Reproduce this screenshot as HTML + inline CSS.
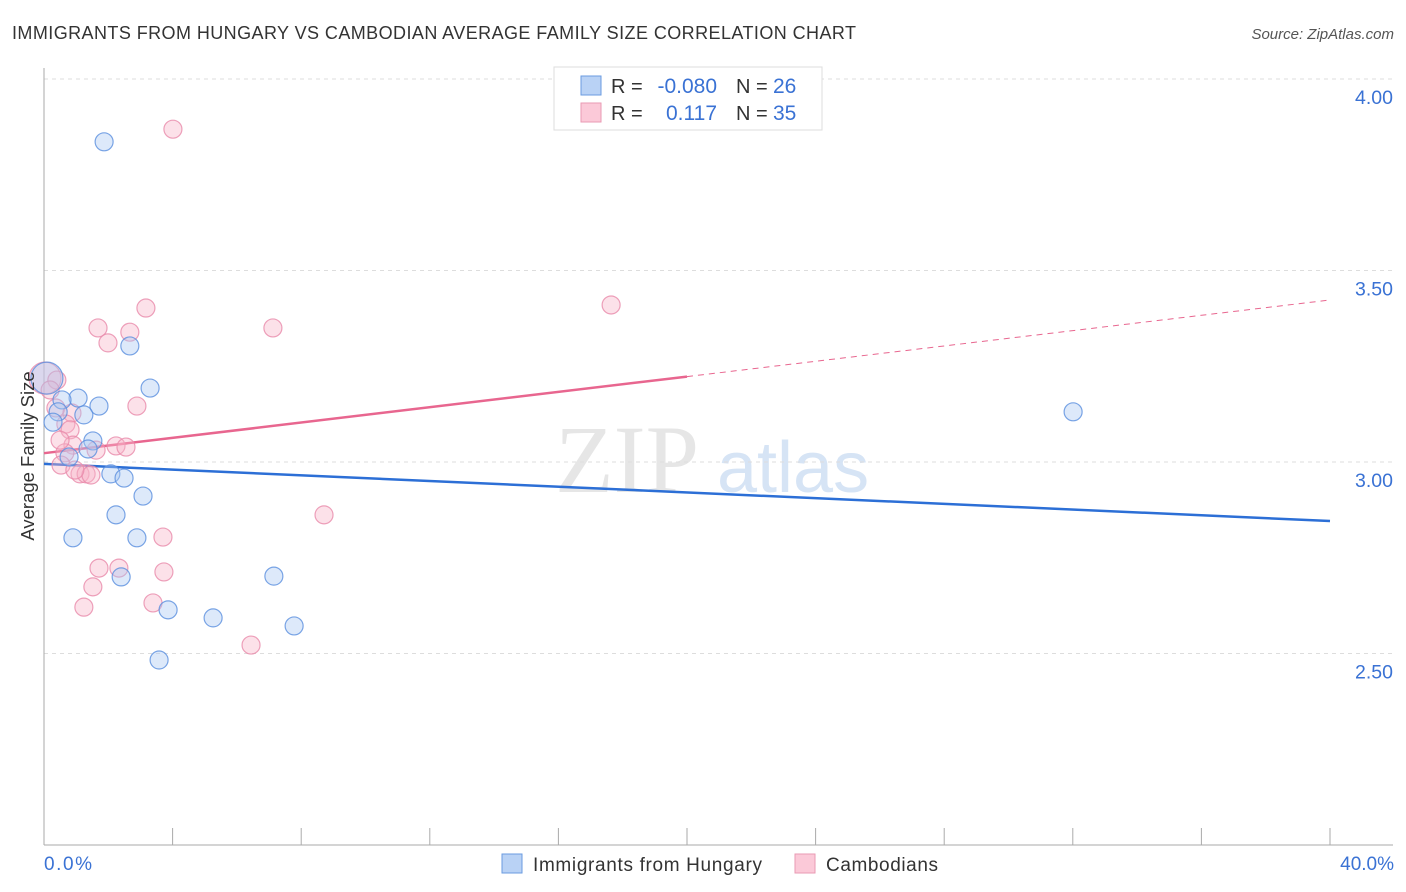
<!DOCTYPE html>
<html><head><meta charset="utf-8"><style>
body{margin:0;background:#fff;font-family:"Liberation Sans",sans-serif;}
svg{display:block}
</style></head><body>
<svg id="chart" width="1406" height="892" viewBox="0 0 1406 892">
<text x="12" y="39" font-size="18" fill="#333" textLength="844">IMMIGRANTS FROM HUNGARY VS CAMBODIAN AVERAGE FAMILY SIZE CORRELATION CHART</text>
<text x="1394" y="39" font-size="15" fill="#555" font-style="italic" text-anchor="end">Source: ZipAtlas.com</text>
<g>
<text x="555" y="492" font-size="96" font-family="Liberation Serif,serif" fill="#e6e6e6">ZIP</text>
<text x="717" y="492" font-size="72" fill="#d6e4f5">atlas</text>
</g>
<g id="grid"></g>
<g id="axes"></g>
<g id="trend"></g>
<g id="points"></g>
<text x="34" y="456" font-size="18.5" fill="#333" text-anchor="middle" transform="rotate(-90 34 456)">Average Family Size</text>
<text x="44" y="870" font-size="19" fill="#3a72d4" textLength="48">0.0%</text>
<text x="1394" y="870" font-size="19" fill="#3a72d4" text-anchor="end">40.0%</text>
<g>
<rect x="554" y="67" width="268" height="63" fill="#fff" stroke="#ddd"/>
<rect x="581" y="76" width="20" height="19" fill="#b9d2f5" stroke="#6a9be0"/>
<rect x="581" y="103" width="20" height="19" fill="#fbc9d8" stroke="#e99ab3"/>
<text x="611" y="93" font-size="20" fill="#333">R =</text>
<text x="717" y="93" font-size="21" fill="#3a72d4" text-anchor="end">-0.080</text>
<text x="736" y="93" font-size="20" fill="#333">N =</text>
<text x="773" y="93" font-size="21" fill="#3a72d4">26</text>
<text x="611" y="120" font-size="20" fill="#333">R =</text>
<text x="717" y="120" font-size="21" fill="#3a72d4" text-anchor="end">0.117</text>
<text x="736" y="120" font-size="20" fill="#333">N =</text>
<text x="773" y="120" font-size="21" fill="#3a72d4">35</text>
</g>
<g>
<rect x="502" y="854" width="20" height="19" fill="#b9d2f5" stroke="#6a9be0"/>
<text x="533" y="871" font-size="19" fill="#333" textLength="229">Immigrants from Hungary</text>
<rect x="795" y="854" width="20" height="19" fill="#fbc9d8" stroke="#e99ab3"/>
<text x="826" y="871" font-size="19" fill="#333" textLength="112">Cambodians</text>
</g>
</svg>
<script>
const yTicks=[4.0,3.5,3.0,2.5];
const yTickLabels=["4.00","3.50","3.00","2.50"];
const xTicks=[0,4,8,12,16,20,24,28,32,36,40];
const hungaryX=[1.87,2.67,3.30,0.09,1.06,1.71,0.56,0.44,1.24,0.28,1.52,1.37,0.78,2.08,2.49,3.08,2.24,0.90,2.89,2.40,3.86,5.26,7.15,7.78,3.58,32.01];
const hungaryY=[3.836,3.303,3.193,3.219,3.167,3.146,3.162,3.131,3.123,3.104,3.055,3.034,3.013,2.969,2.958,2.911,2.862,2.802,2.802,2.700,2.614,2.593,2.702,2.572,2.483,3.131];
const cambX=[4.01,3.17,1.68,2.67,1.99,7.12,17.64,0.03,0.40,0.19,0.37,0.87,2.89,0.68,0.81,0.90,0.65,1.62,2.24,2.55,0.53,1.12,1.31,1.46,3.70,8.71,3.73,1.71,2.33,1.52,1.24,3.39,6.44,0.50,0.96];
const cambY=[3.869,3.402,3.350,3.339,3.311,3.350,3.410,3.219,3.214,3.188,3.141,3.128,3.146,3.099,3.084,3.044,3.024,3.031,3.042,3.039,2.992,2.969,2.969,2.966,2.804,2.862,2.713,2.723,2.723,2.674,2.621,2.632,2.522,3.057,2.979];
const hungaryTrend=[2.995,2.846];
const cambTrend=[3.023,3.423];
const NS="http://www.w3.org/2000/svg";
const xs=v=>44+v*32.15;
const ys=v=>79+(4-v)*383;
function mk(parent,tag,attrs){const e=document.createElementNS(NS,tag);for(const k in attrs)e.setAttribute(k,attrs[k]);document.getElementById(parent).appendChild(e);return e;}
yTicks.forEach((t,i)=>{
 const l=mk('grid','line',{x1:44,x2:1393,y1:ys(t),y2:ys(t),stroke:'#ddd','stroke-dasharray':'4 4'});
 
 
 const tx=mk('grid','text',{x:1393,y:ys(t)+25,'font-size':19.5,fill:'#3a72d4','text-anchor':'end'});
 tx.textContent=yTickLabels[i];
 
 
});
let a=mk('axes','line',{x1:44,x2:44,y1:68,y2:845,stroke:'#aaa'});


a=mk('axes','line',{x1:44,x2:1393,y1:845,y2:845,stroke:'#aaa'});


xTicks.slice(1).forEach(t=>{
 const l=mk('axes','line',{x1:xs(t),x2:xs(t),y1:828,y2:845,stroke:'#aaa'});
 
 
});
let tl=mk('trend','line',{x1:xs(0),y1:ys(hungaryTrend[0]),x2:xs(40),y2:ys(hungaryTrend[1]),stroke:'#2c6fd6','stroke-width':2.5});


const cm=cambTrend[0]+(cambTrend[1]-cambTrend[0])*0.5;
tl=mk('trend','line',{x1:xs(0),y1:ys(cambTrend[0]),x2:xs(20),y2:ys(cm),stroke:'#e8668f','stroke-width':2.5});


tl=mk('trend','line',{x1:xs(20),y1:ys(cm),x2:xs(40),y2:ys(cambTrend[1]),stroke:'#e8668f','stroke-width':1,'stroke-dasharray':'6 5'});


function pts(X,Y,fill,stroke,name){X.forEach((x,i)=>{
 const r=(x<0.15)?16:9;
 const c=mk('points','circle',{cx:xs(x),cy:ys(Y[i]),r:r,fill:fill,'fill-opacity':0.4,stroke:stroke,'stroke-opacity':0.8,'stroke-width':1.2});
 
 
});}
pts(cambX,cambY,'#f7b3c8','#e98aaa','cambodians-point');
pts(hungaryX,hungaryY,'#aac8f2','#5a8fde','hungary-point');
</script>
</body></html>
